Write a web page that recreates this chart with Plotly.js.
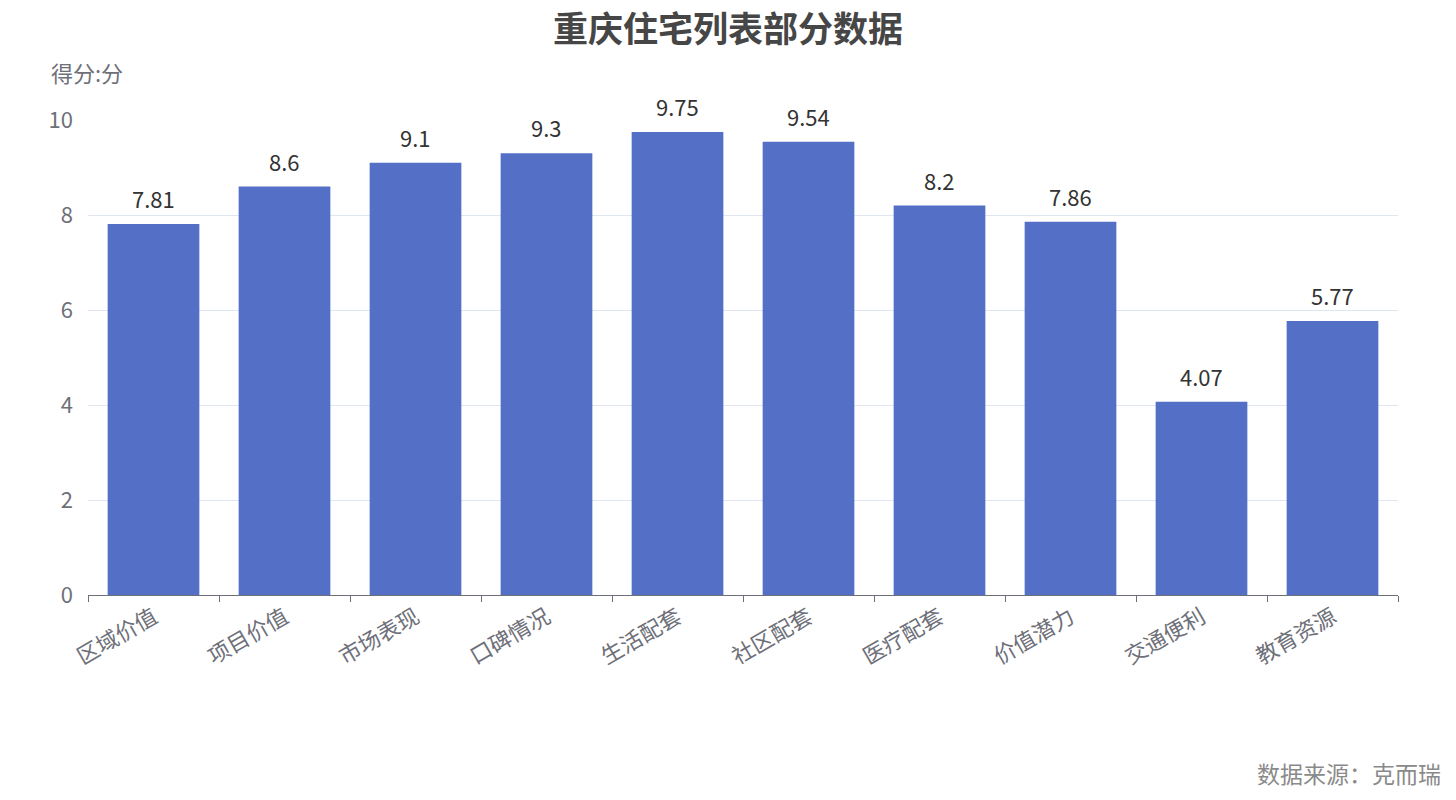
<!DOCTYPE html>
<html>
<head>
<meta charset="utf-8">
<script src="https://cdn.plot.ly/plotly-3.0.1.min.js"></script>
<style>html,body{margin:0;padding:0;background:#fff;}#chart{width:1456px;height:800px;}</style>
</head>
<body>
<div id="chart"></div>
<script>
const categories = ["区域价值","项目价值","市场表现","口碑情况","生活配套","社区配套","医疗配套","价值潜力","交通便利","教育资源"];
const scores = [7.81, 8.6, 9.1, 9.3, 9.75, 9.54, 8.2, 7.86, 4.07, 5.77];
const yTicks = [0, 2, 4, 6, 8, 10];
const chartTitle = "重庆住宅列表部分数据";
const yAxisName = "得分:分";
const sourceText = "数据来源：克而瑞";

const FONT = '"Noto Sans CJK SC", "Noto Sans", sans-serif';

const trace = {
  type: 'bar',
  x: categories,
  y: scores,
  marker: {color: '#5470c6'},
  hoverinfo: 'x+y'
};

const valueLabels = categories.map((c, i) => ({
  x: c, y: scores[i], xref: 'x', yref: 'y',
  text: String(scores[i]), showarrow: false,
  xanchor: 'center', yanchor: 'bottom', yshift: 8,
  font: {family: FONT, size: 22, color: '#333333'}
}));

const layout = {
  width: 1456, height: 800,
  margin: {l: 88, r: 58, t: 120, b: 205},
  paper_bgcolor: '#ffffff', plot_bgcolor: '#ffffff',
  bargap: 0.3,
  showlegend: false,
  font: {family: FONT},
  title: {text: chartTitle, x: 0.5, xanchor: 'center', y: 0.963, yanchor: 'middle',
          font: {family: FONT, size: 35, color: '#464646', weight: 'bold'}},
  xaxis: {
    type: 'category',
    showline: true, linecolor: '#6e7079', linewidth: 1,
    ticks: 'outside', ticklen: 6, tickcolor: '#6e7079', tickson: 'boundaries',
    tickangle: -30,
    tickfont: {family: FONT, size: 22, color: '#6e7079'},
    showgrid: false, zeroline: false, fixedrange: true
  },
  yaxis: {
    range: [0, 10],
    tickvals: yTicks,
    ticktext: yTicks.map(String),
    showgrid: true, gridcolor: '#e0e6f1', gridwidth: 1,
    zeroline: false, showline: false, ticks: '',
    ticklabelstandoff: 14,
    tickfont: {family: FONT, size: 22, color: '#6e7079'},
    fixedrange: true
  },
  annotations: valueLabels.concat([
    {text: yAxisName, xref: 'paper', yref: 'paper', x: -0.03, y: 1.1, xanchor: 'left', yanchor: 'middle',
     showarrow: false, font: {family: FONT, size: 22, color: '#6e7079'}},
    {text: sourceText, xref: 'paper', yref: 'paper', x: 1.034, y: -0.375, xanchor: 'right', yanchor: 'middle',
     showarrow: false, font: {family: FONT, size: 23, color: '#8a8a8a'}}
  ])
};

Plotly.newPlot('chart', [trace], layout, {displayModeBar: false, responsive: false});
</script>
</body>
</html>
